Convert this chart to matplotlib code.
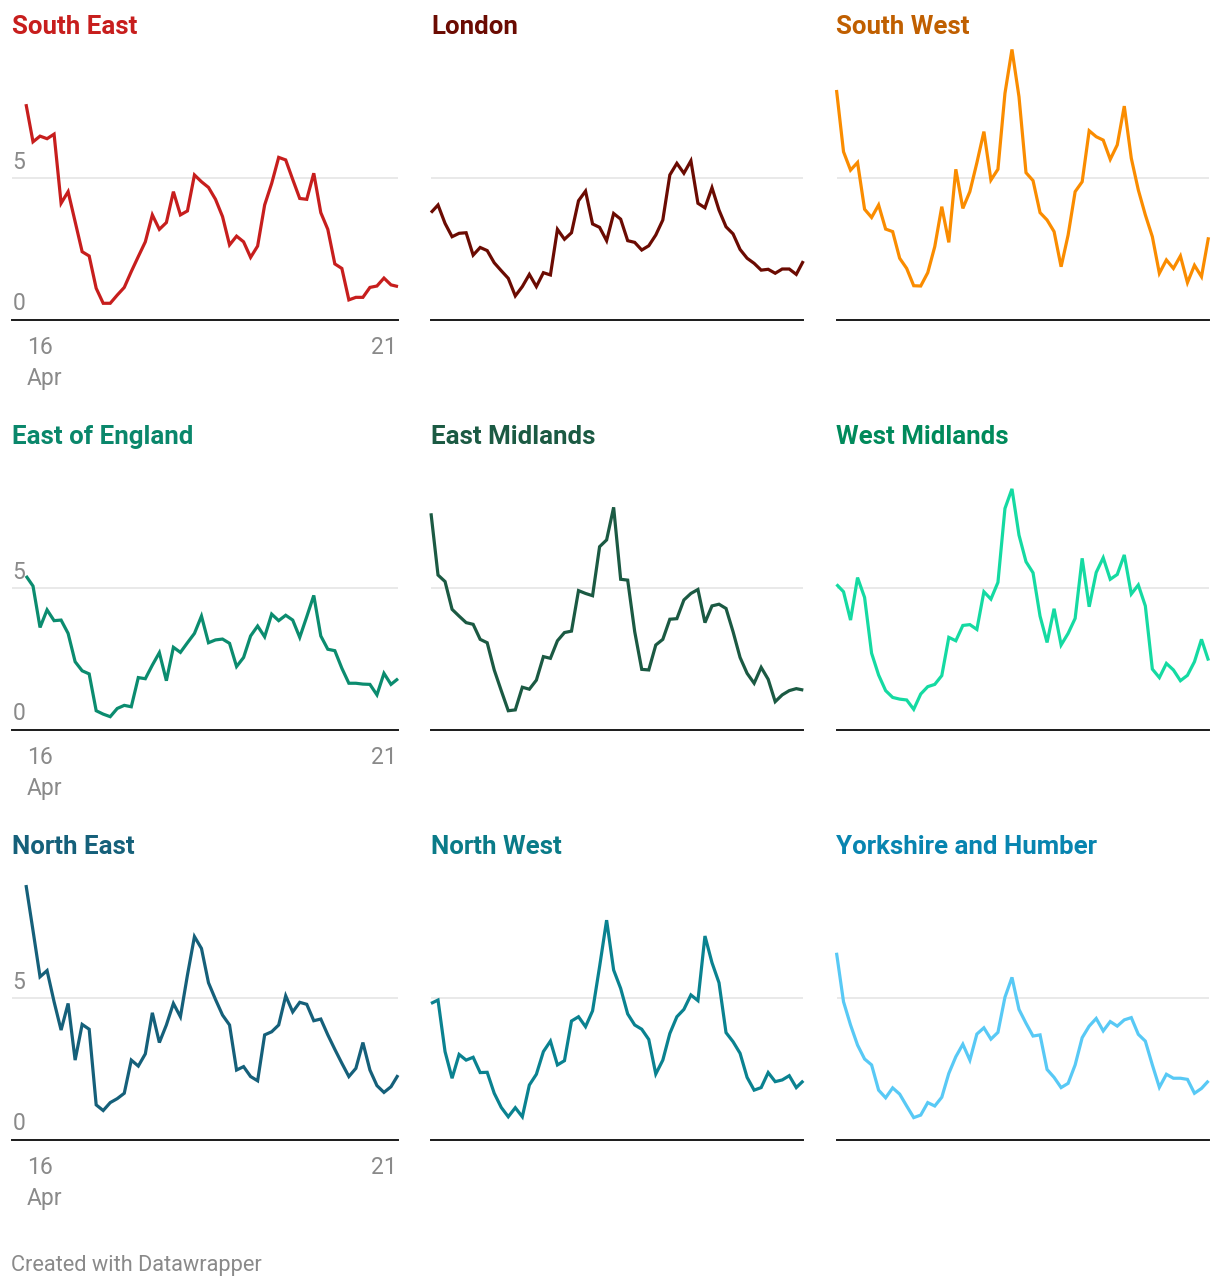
import numpy as np
import matplotlib
matplotlib.use("Agg")
import matplotlib.pyplot as plt

plt.rcParams['font.family'] = ['Roboto', 'DejaVu Sans']

# ---------------- data ----------------
regions = ["South East", "London", "South West",
           "East of England", "East Midlands", "West Midlands",
           "North East", "North West", "Yorkshire and Humber"]

south_east = [7.62, 6.29, 6.49, 6.40, 6.56, 4.12, 4.53, 3.47, 2.41, 2.26, 1.12, 0.59, 0.59, 0.88,
              1.15, 1.71, 2.24, 2.76, 3.71, 3.20, 3.44, 4.53, 3.71, 3.85, 5.12, 4.88, 4.68, 4.26,
              3.65, 2.65, 2.96, 2.76, 2.21, 2.61, 4.06, 4.82, 5.74, 5.65, 4.96, 4.29, 4.26, 5.18,
              3.79, 3.20, 1.98, 1.82, 0.71, 0.80, 0.80, 1.15, 1.20, 1.48, 1.24, 1.18]
london = [3.79, 4.06, 3.41, 2.94, 3.06, 3.08, 2.29, 2.56, 2.45, 2.02, 1.74, 1.47, 0.85, 1.18,
          1.61, 1.18, 1.67, 1.59, 3.20, 2.85, 3.08, 4.21, 4.55, 3.39, 3.27, 2.80, 3.76, 3.56,
          2.80, 2.74, 2.47, 2.62, 3.00, 3.53, 5.12, 5.53, 5.18, 5.62, 4.12, 3.96, 4.67, 3.88,
          3.29, 3.04, 2.49, 2.18, 2.00, 1.76, 1.79, 1.65, 1.80, 1.80, 1.61, 2.08]
south_west = [8.12, 5.94, 5.29, 5.56, 3.91, 3.62, 4.06, 3.21, 3.12, 2.18, 1.82, 1.21, 1.20, 1.67,
              2.59, 4.00, 2.74, 5.32, 3.94, 4.53, 5.55, 6.65, 4.94, 5.32, 8.00, 9.55, 7.88, 5.20,
              4.92, 3.79, 3.53, 3.12, 1.88, 3.00, 4.53, 4.88, 6.68, 6.47, 6.35, 5.67, 6.18, 7.55,
              5.71, 4.59, 3.71, 2.94, 1.65, 2.12, 1.82, 2.26, 1.32, 1.93, 1.53, 2.92]
east_of_england = [5.44, 5.08, 3.62, 4.24, 3.86, 3.88, 3.41, 2.41, 2.09, 1.98, 0.68, 0.56, 0.47, 0.76,
                   0.87, 0.82, 1.85, 1.81, 2.29, 2.73, 1.74, 2.92, 2.74, 3.08, 3.41, 4.02, 3.08, 3.18,
                   3.21, 3.06, 2.24, 2.56, 3.32, 3.67, 3.29, 4.09, 3.86, 4.05, 3.88, 3.27, 4.00, 4.75,
                   3.32, 2.85, 2.80, 2.18, 1.65, 1.65, 1.62, 1.61, 1.24, 2.00, 1.61, 1.81]
east_midlands = [7.65, 5.47, 5.24, 4.26, 4.02, 3.79, 3.73, 3.20, 3.08, 2.12, 1.39, 0.68, 0.71, 1.51,
                 1.44, 1.76, 2.59, 2.53, 3.15, 3.44, 3.49, 4.92, 4.82, 4.74, 6.47, 6.71, 7.86, 5.32,
                 5.29, 3.47, 2.14, 2.12, 3.00, 3.20, 3.91, 3.93, 4.59, 4.82, 4.96, 3.79, 4.38, 4.44,
                 4.29, 3.47, 2.56, 2.00, 1.65, 2.21, 1.79, 1.00, 1.24, 1.39, 1.46, 1.41]
west_midlands = [5.14, 4.88, 3.88, 5.38, 4.68, 2.71, 1.94, 1.39, 1.15, 1.09, 1.06, 0.73, 1.27, 1.53,
                 1.61, 1.92, 3.27, 3.15, 3.69, 3.72, 3.55, 4.88, 4.62, 5.21, 7.82, 8.51, 6.88, 5.94,
                 5.55, 4.02, 3.09, 4.28, 3.00, 3.41, 3.94, 6.06, 4.35, 5.56, 6.08, 5.32, 5.49, 6.18,
                 4.80, 5.12, 4.38, 2.15, 1.85, 2.35, 2.12, 1.74, 1.93, 2.41, 3.20, 2.45]
north_east = [9.00, 7.39, 5.76, 5.98, 4.88, 3.88, 4.82, 2.82, 4.08, 3.91, 1.24, 1.04, 1.32, 1.46,
              1.65, 2.82, 2.61, 3.04, 4.49, 3.44, 4.06, 4.82, 4.35, 5.82, 7.18, 6.76, 5.55, 4.96,
              4.41, 4.06, 2.47, 2.59, 2.24, 2.09, 3.71, 3.82, 4.06, 5.09, 4.52, 4.86, 4.79, 4.21,
              4.27, 3.71, 3.20, 2.71, 2.24, 2.53, 3.44, 2.47, 1.92, 1.68, 1.88, 2.29]
north_west = [4.82, 4.94, 3.12, 2.18, 3.02, 2.82, 2.92, 2.38, 2.39, 1.65, 1.15, 0.82, 1.14, 0.82,
              1.94, 2.32, 3.12, 3.49, 2.65, 2.80, 4.20, 4.35, 4.00, 4.56, 6.12, 7.76, 6.00, 5.35,
              4.45, 4.06, 3.91, 3.55, 2.33, 2.82, 3.76, 4.35, 4.61, 5.12, 4.92, 7.20, 6.26, 5.55,
              3.79, 3.47, 3.06, 2.21, 1.76, 1.85, 2.38, 2.06, 2.12, 2.27, 1.85, 2.09]
yorkshire = [6.61, 4.88, 4.06, 3.35, 2.86, 2.65, 1.76, 1.49, 1.84, 1.62, 1.20, 0.79, 0.88, 1.32,
             1.20, 1.51, 2.35, 2.94, 3.38, 2.82, 3.74, 3.96, 3.56, 3.80, 5.04, 5.74, 4.61, 4.12,
             3.67, 3.71, 2.49, 2.21, 1.85, 2.00, 2.65, 3.61, 4.02, 4.29, 3.85, 4.18, 4.02, 4.24,
             4.32, 3.73, 3.49, 2.65, 1.86, 2.32, 2.18, 2.18, 2.14, 1.65, 1.82, 2.09]

series = [south_east, london, south_west, east_of_england, east_midlands,
          west_midlands, north_east, north_west, yorkshire]

line_colors = ["#c71e1d", "#6b0b02", "#fa8c00",
               "#0b8c6f", "#1b5a43", "#15daa2",
               "#15607a", "#0a8290", "#58c9f5"]
title_colors = ["#c71e1d", "#6b0b02", "#c05f00",
                "#0a876b", "#1b5a43", "#008a5b",
                "#15607a", "#0a7b88", "#0885b0"]

y_ticks = [0, 5]
x_tick_first = ["16", "Apr"]
x_tick_last = "21"

# ---------------- layout ----------------
W, H = 1220, 1286
fig = plt.figure(figsize=(W / 100, H / 100), dpi=100)
fig.patch.set_facecolor("white")

col_axes_left = [12, 431, 836.5]
col_data_start = [26, 431, 836.5]
col_data_end = [398, 803.3, 1208.5]
row_baseline = [320, 730, 1140]
px_per_unit = 28.33
y_top = 9.6

GRAY = "#8a8a8a"
TICK_FS = 16.5

for i, (name, vals) in enumerate(zip(regions, series)):
    r, c = divmod(i, 3)
    n = len(vals)
    x = np.arange(n)
    step = (col_data_end[c] - col_data_start[c]) / (n - 1)
    left = col_axes_left[c]
    right = col_data_end[c]
    bottom = row_baseline[r]
    top = bottom - y_top * px_per_unit
    ax = fig.add_axes([left / W, 1 - bottom / H, (right - left) / W, (bottom - top) / H])
    ax.set_xlim(-(col_data_start[c] - left) / step, n - 1)
    ax.set_ylim(0, y_top)
    for s in ax.spines.values():
        s.set_visible(False)
    ax.set_xticks([])
    ax.set_yticks([])
    ax.patch.set_alpha(0)

    # gridline at 5 and black baseline at 0
    ax.axhline(y_ticks[1], color="#e3e3e3", lw=1.1, zorder=1)
    ax.axhline(y_ticks[0], color="#1a1a1a", lw=1.4, zorder=3, clip_on=False)

    ax.plot(x, vals, color=line_colors[i], lw=2.3, solid_joinstyle="miter",
            solid_capstyle="butt", zorder=4, clip_on=False)

    # title
    ax.annotate(name, xy=(0, 0), xycoords=("axes fraction", "data"),
                xytext=(0, 286 * 0.72), textcoords="offset points",
                ha="left", va="baseline", fontsize=18.6, fontweight="bold",
                color=title_colors[i])

    if c == 0:
        for yt in y_ticks:
            ax.annotate(str(yt), xy=(0, yt), xycoords=("axes fraction", "data"),
                        xytext=(0.5, 7), textcoords="offset points",
                        ha="left", va="baseline", fontsize=TICK_FS, color=GRAY, zorder=2)
        ax.annotate(x_tick_first[0], xy=(0, 0), xycoords="data",
                    xytext=(0.5, -24.5), textcoords="offset points",
                    ha="left", va="baseline", fontsize=TICK_FS, color=GRAY,
                    annotation_clip=False)
        ax.annotate(x_tick_first[1], xy=(0, 0), xycoords="data",
                    xytext=(0.5, -46.8), textcoords="offset points",
                    ha="left", va="baseline", fontsize=TICK_FS, color=GRAY,
                    annotation_clip=False)
        ax.annotate(x_tick_last, xy=(n - 1, 0), xycoords="data",
                    xytext=(-1, -24.5), textcoords="offset points",
                    ha="right", va="baseline", fontsize=TICK_FS, color=GRAY,
                    annotation_clip=False)

fig.text(11 / W, 1 - 1271 / H, "Created with Datawrapper", ha="left", va="baseline",
         fontsize=15.7, color=GRAY)

fig.savefig("out.png", dpi=100, facecolor="white")
